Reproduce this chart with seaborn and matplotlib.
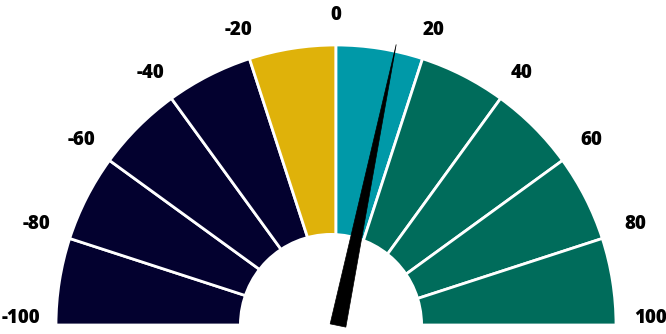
import numpy as np
import matplotlib
matplotlib.use("Agg")
import matplotlib.pyplot as plt
from matplotlib.patches import Wedge, Circle, Polygon
import seaborn as sns

# gauge data
bounds = [-100, -80, -60, -40, -20, 0, 20, 40, 60, 80, 100]
seg_colors = ["#03012F", "#03012F", "#03012F", "#03012F", "#DFB20A",
              "#0099A8", "#006C5B", "#006C5B", "#006C5B", "#006C5B"]
tick_labels = ["-100", "-80", "-60", "-40", "-20", "0", "20", "40", "60", "80", "100"]
value = 13

sns.set_theme(style="white")
plt.rcParams['font.family'] = ['Open Sans', 'DejaVu Sans']

fig = plt.figure(figsize=(6.66, 3.34), dpi=100)
ax = fig.add_axes([0, 0, 1, 1])
ax.set_xlim(0, 666)
ax.set_ylim(0, 334)
ax.set_aspect('equal')
ax.axis('off')

cx, cy = 336, 9
R = 280


def ang(v):
    # -100 -> 180 deg, 100 -> 0 deg
    return 180 - (v + 100) / 200 * 180


pal = sns.color_palette(seg_colors)
for i in range(len(bounds) - 1):
    w = Wedge((cx, cy), R, ang(bounds[i + 1]), ang(bounds[i]),
              facecolor=pal[i], edgecolor='white', linewidth=2)
    ax.add_patch(w)

# white hole in the middle
ax.add_patch(Circle((331, cy), 92, facecolor='white', edgecolor='none', zorder=3))

# labels around the arc
for b, lab in zip(bounds, tick_labels):
    a = np.radians(ang(b))
    ax.text(cx + 315 * np.cos(a), 16 + 303 * np.sin(a), lab,
            ha='center', va='center', fontsize=13.5, fontweight=800,
            color='black')

# needle
px, py = 338, 8.5
a = np.radians(ang(value))
L = 287
tip = (px + L * np.cos(a), py + L * np.sin(a))
perp = np.array([np.sin(a), -np.cos(a)])
b1 = np.array([px, py]) + perp * 8
b2 = np.array([px, py]) - perp * 8
ax.add_patch(Polygon([b1, tip, b2], closed=True, facecolor='black',
                     edgecolor='black', linewidth=0.5, zorder=4))

fig.savefig("out.png", dpi=100)
